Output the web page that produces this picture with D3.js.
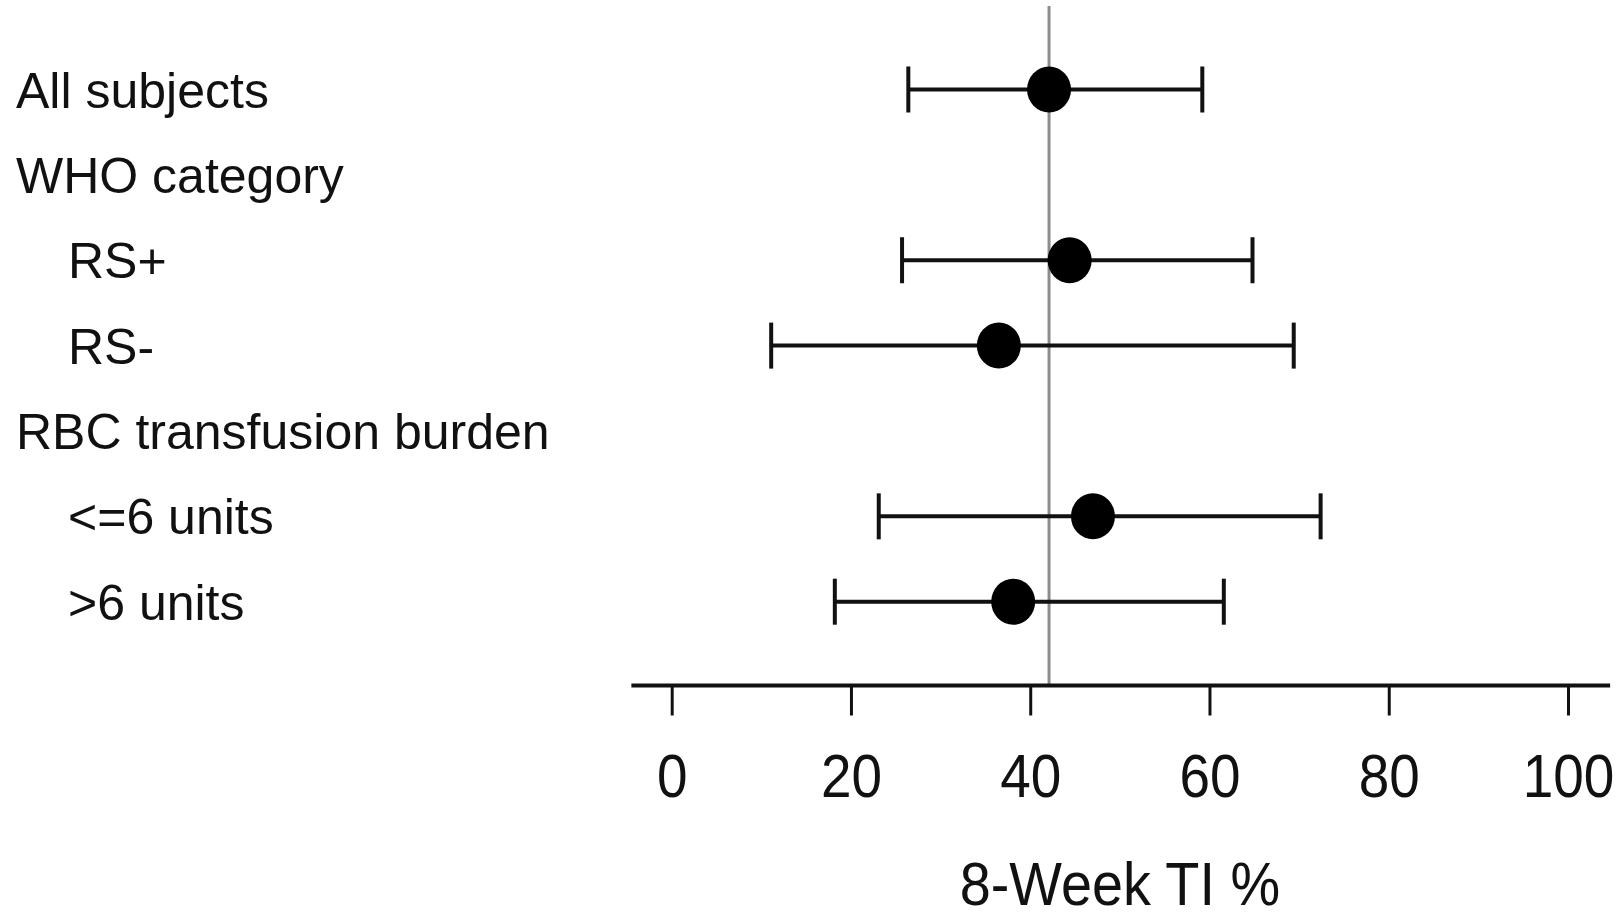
<!DOCTYPE html>
<html>
<head>
<meta charset="utf-8">
<script src="https://cdn.jsdelivr.net/npm/d3@7"></script>
<style>
  html, body { margin: 0; padding: 0; background: #fff; }
  svg { display: block; }
  text { font-family: "Liberation Sans", Arial, sans-serif; fill: #111; }
</style>
</head>
<body>
<svg id="chart" width="1621" height="919"></svg>
<script>
// Subgroup rows (headers have no estimate)
const rowLabels = ["All subjects", "WHO category", "RS+", "RS-", "RBC transfusion burden", "<=6 units", ">6 units"];
const rowIndented = [false, false, true, true, false, true, true];
// 8-week transfusion independence rate (%) with 95% CI
const estimates = [42.1, null, 44.4, 36.5, null, 47.0, 38.1];
const lowerCI   = [26.4, null, 25.7, 11.1, null, 23.1, 18.2];
const upperCI   = [59.2, null, 64.8, 69.4, null, 72.4, 61.6];
const referenceValue = 42.1;
const tickValues = [0, 20, 40, 60, 80, 100];
const xTitle = "8-Week TI %";

const W = 1621, H = 919;
const svg = d3.select("#chart");
svg.append("rect").attr("width", W).attr("height", H).attr("fill", "#fff");

const x = d3.scaleLinear().domain([0, 100]).range([671.7, 1568]);
const y = d3.scalePoint().domain(d3.range(rowLabels.length)).range([89.5, 601.7]);
const axisY = 685.5;
const axisExtent = [-4.5, 104.7];

// Row labels
svg.append("g").selectAll("text")
  .data(rowLabels)
  .join("text")
  .attr("x", (d, i) => rowIndented[i] ? 68 : 16)
  .attr("y", (d, i) => y(i) + 18)
  .attr("font-size", 50)
  .text(d => d);

// Reference line at the overall estimate
svg.append("line")
  .attr("x1", x(referenceValue)).attr("x2", x(referenceValue))
  .attr("y1", 6).attr("y2", axisY)
  .attr("stroke", "#8c8c8c")
  .attr("stroke-width", 3);

// Axis
const axis = d3.axisBottom(x).tickValues(tickValues).tickSize(29).tickPadding(0).tickFormat(d3.format("d"));
const gAxis = svg.append("g").attr("transform", `translate(0,${axisY + 1})`).call(axis);
gAxis.select(".domain").remove();
gAxis.selectAll(".tick line").attr("stroke", "#111").attr("stroke-width", 3);
gAxis.selectAll(".tick text")
  .attr("y", null).attr("dy", null)
  .attr("font-size", 61)
  .attr("font-family", "Liberation Sans, Arial, sans-serif")
  .attr("fill", "#111")
  .attr("text-anchor", "middle")
  .attr("transform", "translate(0,110.5) scale(0.9,1)");

svg.append("line")
  .attr("x1", x(axisExtent[0])).attr("x2", x(axisExtent[1]))
  .attr("y1", axisY).attr("y2", axisY)
  .attr("stroke", "#111")
  .attr("stroke-width", 4);

// Axis title
svg.append("text")
  .attr("transform", `translate(${x(50)},905) scale(0.9,1)`)
  .attr("text-anchor", "middle")
  .attr("font-size", 62)
  .text(xTitle);

// Error bars and point estimates
const rowsWithData = d3.range(rowLabels.length).filter(i => estimates[i] != null);
const capHalf = 23;
const g = svg.append("g").attr("stroke", "#111").attr("stroke-width", 4);
rowsWithData.forEach(i => {
  g.append("line").attr("x1", x(lowerCI[i])).attr("x2", x(upperCI[i])).attr("y1", y(i)).attr("y2", y(i));
  g.append("line").attr("x1", x(lowerCI[i])).attr("x2", x(lowerCI[i])).attr("y1", y(i) - capHalf).attr("y2", y(i) + capHalf);
  g.append("line").attr("x1", x(upperCI[i])).attr("x2", x(upperCI[i])).attr("y1", y(i) - capHalf).attr("y2", y(i) + capHalf);
});
svg.append("g").selectAll("ellipse")
  .data(rowsWithData)
  .join("ellipse")
  .attr("cx", i => x(estimates[i]))
  .attr("cy", i => y(i))
  .attr("rx", 22)
  .attr("ry", 23)
  .attr("fill", "#000");
</script>
</body>
</html>
